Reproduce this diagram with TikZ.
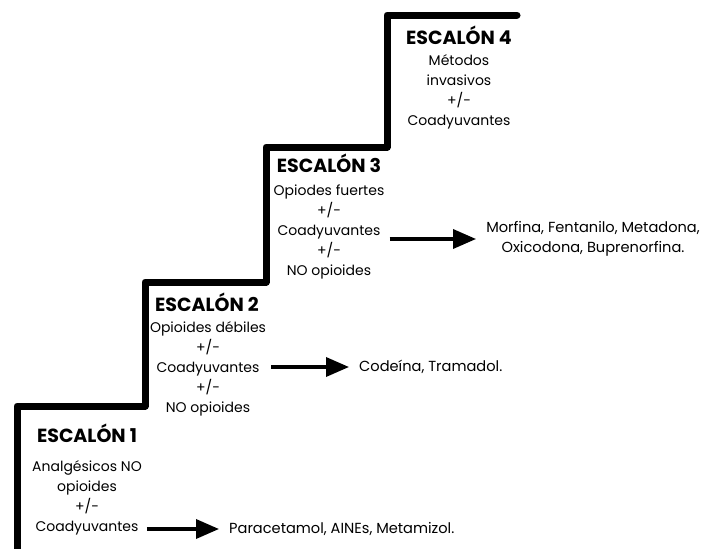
\documentclass[tikz,border=0pt]{standalone}
\usepackage{fontspec}
\setmainfont{Poppins}
\usetikzlibrary{arrows.meta,positioning}

\begin{document}
\begin{tikzpicture}[x=1pt,y=1pt,>={Triangle[length=23pt,width=19pt]},
 title/.style={font=\fontsize{19}{22}\selectfont\bfseries,inner sep=2pt},
 body/.style={font=\fontsize{14}{20}\selectfont,align=center,inner sep=2pt},
 drug/.style={font=\fontsize{14.6}{20}\selectfont,align=center,inner sep=2pt},
 stair/.style={line width=7pt,line join=round,line cap=round},
 link/.style={->,line width=3.5pt,shorten >=8pt}]
\useasboundingbox (0,0) rectangle (702,-549);
% staircase
\draw[stair] (17,-552) -- (17,-406) -- (145,-406) -- (145,-282) -- (266,-282)
  -- (266,-147) -- (387,-147) -- (387,-15) -- (517,-15);
% steps
\node[title] (t1) at (87,-433) {ESCALÓN 1};
\node[body] (s1) at (87,-498) {Analgésicos NO\\opioides\\+/-\\Coadyuvantes};
\node[title] (t2) at (207,-302) {ESCALÓN 2};
\node[body] (s2) at (208,-369) {Opioides débiles\\+/-\\Coadyuvantes\\+/-\\NO opioides};
\node[title] (t3) at (329,-163) {ESCALÓN 3};
\node[body] (s3) at (329,-232) {Opiodes fuertes\\+/-\\Coadyuvantes\\+/-\\NO opioides};
\node[title] (t4) at (459,-35) {ESCALÓN 4};
\node[body] (s4) at (459,-92) {Métodos\\invasivos\\+/-\\Coadyuvantes};
% drugs
\node[drug,anchor=west] (d1) at (227,-529) {Paracetamol, AINEs, Metamizol.};
\node[drug,anchor=west] (d2) at (357,-367) {Codeína, Tramadol.};
\node[drug] (d3) at (593,-239) {Morfina, Fentanilo, Metadona,\\Oxicodona, Buprenorfina.};
\foreach \a/\b in {s1/d1,s2/d2,s3/d3}
  \draw[link] ([xshift=3pt]\a.east |- \b.west) -- (\b.west);
\end{tikzpicture}
\end{document}
